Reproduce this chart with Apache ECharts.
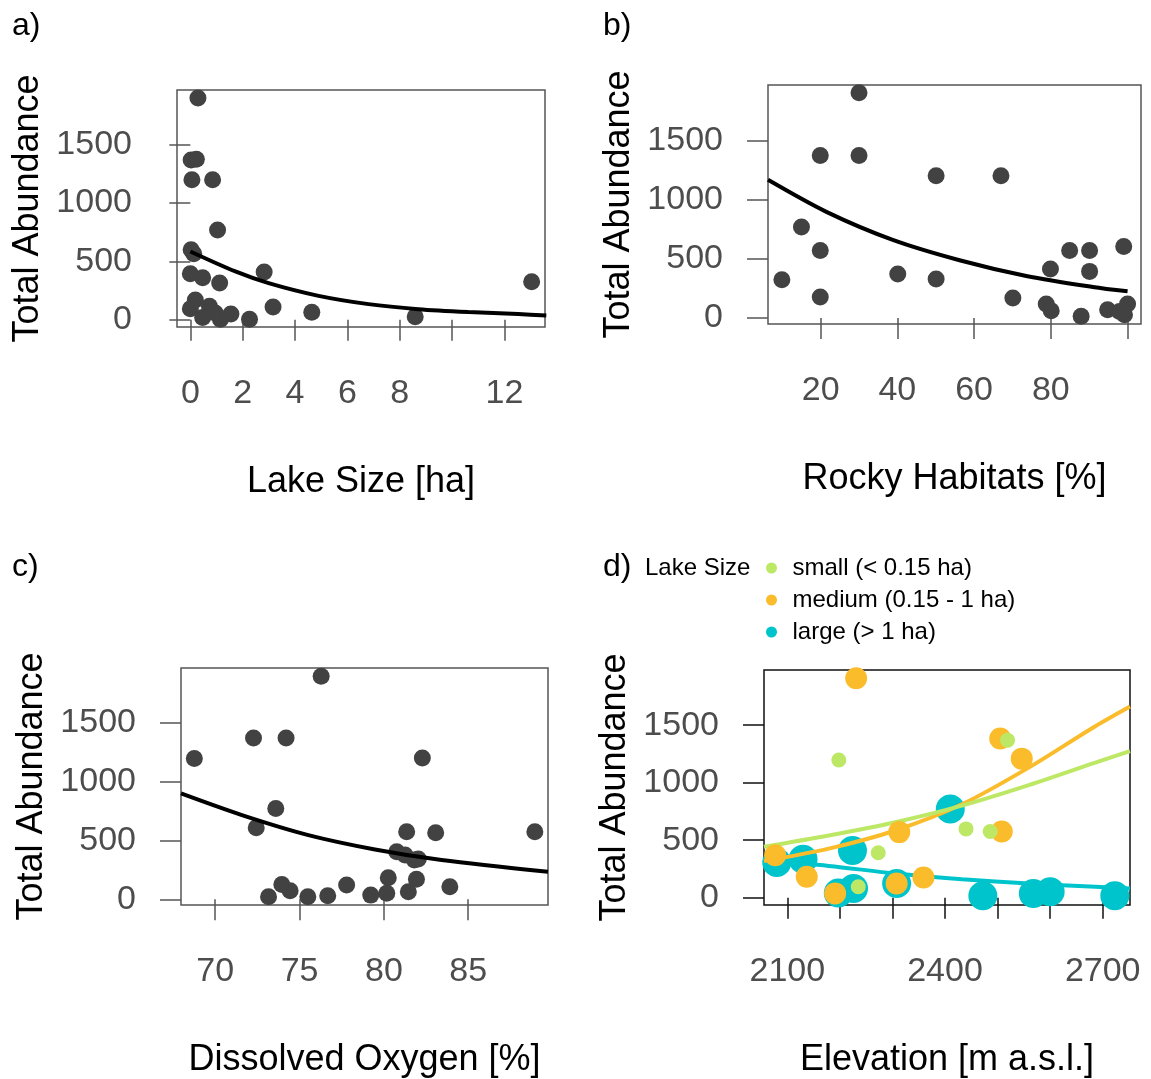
<!DOCTYPE html>
<html>
<head>
<meta charset="utf-8">
<script src="https://cdn.jsdelivr.net/npm/echarts@6/dist/echarts.min.js"></script>
<style>
html,body{margin:0;padding:0;background:#fff;}
#chart{width:1151px;height:1079px;}
</style>
</head>
<body>
<div id="chart"></div>
<script>
// ---------- data ----------
// a) Lake size [ha] vs total abundance
const aX = [0.29, 0.03, 0.23, 0.06, 0.85, 1.04, 0.03, 0.13, 0.0, 0.47, 1.12, 2.82, 0.19, 0.0, 0.73, 0.47, 1.15, 1.55, 0.95, 2.26, 3.16, 4.64, 8.59, 13.04];
const aY = [1900, 1370, 1375, 1200, 1200, 770, 600, 565, 395, 360, 315, 410, 170, 95, 115, 20, 5, 50, 57, 5, 110, 65, 25, 325];
const aFitX = [0, 1.72, 2.99, 4.90, 6.81, 8.71, 10.62, 12.53, 13.6];
const aFitY = [585, 414, 314, 205, 134, 91, 66, 49, 37];

// b) Rocky habitats [%]
const bX = [30.0, 19.9, 30.0, 50.1, 67.0, 15.0, 19.9, 9.9, 19.9, 40.1, 50.1, 70.1, 79.9, 84.9, 90.1, 99.0, 90.1, 78.8, 80.1, 87.9, 94.8, 100, 99.2, 97.9];
const bY = [1905, 1373, 1373, 1202, 1202, 769, 571, 323, 177, 371, 329, 169, 414, 571, 571, 605, 394, 118, 62, 14, 70, 118, 28, 55];
const bFitX = [6.28, 21.5, 38.8, 56.2, 73.6, 90.9, 100];
const bFitY = [1168, 897, 660, 488, 355, 262, 225];

// c) Dissolved oxygen [%]
const cX = [76.28, 72.27, 74.2, 68.76, 82.28, 73.59, 72.43, 81.35, 83.07, 88.95, 80.76, 81.25, 81.8, 82.04, 80.26, 81.93, 73.95, 74.44, 73.16, 75.49, 76.67, 77.79, 79.22, 80.17, 81.45, 83.91];
const cY = [1896, 1372, 1372, 1197, 1202, 772, 608, 574, 565, 574, 404, 376, 334, 342, 184, 170, 127, 73, 22, 22, 31, 121, 36, 51, 65, 107];
const cFitX = [67.97, 71.58, 75.52, 79.47, 83.42, 89.73];
const cFitY = [900, 716, 546, 424, 334, 234];

// d) Elevation [m a.s.l.] by lake size class
const dSmallX = [2198, 2519, 2440, 2486, 2273, 2235];
const dSmallY = [1197, 1370, 598, 575, 391, 95];
const dMedX = [2231, 2505, 2546, 2508, 2313, 2359, 2308, 2137, 2191, 2077];
const dMedY = [1908, 1384, 1209, 575, 570, 175, 123, 181, 37, 368];
const dLargeX = [2410, 2224, 2130, 2080, 2308, 2226, 2197, 2472, 2568, 2600, 2723];
const dLargeY = [771, 411, 333, 305, 123, 80, 40, 17, 37, 52, 17];
const dFitX = [2055.7, 2178.8, 2305.4, 2432.3, 2559.2, 2685.9, 2751.9];
const dFitSmallY = [443, 541, 656, 800, 978, 1174, 1275];
const dFitMedY = [318, 426, 584, 812, 1131, 1491, 1663];
const dFitLargeY = [325, 276, 210, 161, 123, 95, 80];

// tick values and labels
const yTicks = [0, 500, 1000, 1500];
const aTicks = [0, 2, 4, 6, 8, 10, 12];
const aLabels = [0, 2, 4, 6, 8, 12];
const bTicks = [20, 40, 60, 80, 100];
const bLabels = [20, 40, 60, 80];
const cTicks = [70, 75, 80, 85];
const dTicks = [2100, 2200, 2300, 2400, 2500, 2600, 2700];
const dLabels = [2100, 2400, 2700];

const panelLabels = ['a)', 'b)', 'c)', 'd)'];
const xNames = ['Lake Size [ha]', 'Rocky Habitats [%]', 'Dissolved Oxygen [%]', 'Elevation [m a.s.l.]'];
const yName = 'Total Abundance';
const groupNames = ['small (< 0.15 ha)', 'medium (0.15 - 1 ha)', 'large (> 1 ha)'];
const legendTitle = 'Lake Size';

// ---------- layout / style ----------
const FONT = '"Liberation Sans", Arial, Helvetica, sans-serif';
const PT = '#424242';
const C_SMALL = '#bde866', C_MED = '#fbbc2c', C_LARGE = '#00c4cb';
const zip = (xs, ys) => xs.map((x, i) => [x, ys[i]]);

const boxes = [
  {left: 177, top: 90, width: 368, height: 237, xr: [-0.51, 13.55], yr: [-62, 1969], border: '#555'},
  {left: 768, top: 85, width: 373, height: 239, xr: [6.28, 103.5], yr: [-51, 1970], border: '#555'},
  {left: 181, top: 668, width: 367, height: 237, xr: [67.97, 89.73], yr: [-48, 1966], border: '#555'},
  {left: 764, top: 670, width: 366, height: 237, xr: [2055.7, 2751.9], yr: [-64, 1980], border: '#111'}
];
const xTickSets = [aTicks, bTicks, cTicks, dTicks];
const xLabelSets = [aLabels, bLabels, cTicks, dLabels];
const plain = v => String(v);

const grid = boxes.map(b => ({left: b.left, top: b.top, width: b.width, height: b.height,
  show: true, borderColor: b.border, borderWidth: 1.5, backgroundColor: 'transparent', containLabel: false}));

const xAxis = boxes.map((b, i) => ({
  type: 'value', gridIndex: i, min: b.xr[0], max: b.xr[1],
  name: xNames[i], nameLocation: 'middle', nameGap: 137,
  nameTextStyle: {fontSize: 36, color: '#000', fontFamily: FONT},
  axisLine: {show: false},
  splitLine: {show: false},
  axisTick: {show: true, length: 21, customValues: xTickSets[i], lineStyle: {color: b.border, width: 1.5}},
  axisLabel: {show: true, customValues: xLabelSets[i], formatter: plain, margin: 50, fontSize: 34, color: '#4d4d4d', fontFamily: FONT}
}));
const yAxis = boxes.map((b, i) => ({
  type: 'value', gridIndex: i, min: b.yr[0], max: b.yr[1],
  name: yName, nameLocation: 'middle', nameGap: 131, nameRotate: 90,
  nameTextStyle: {fontSize: 36, color: '#000', fontFamily: FONT},
  axisLine: {show: false},
  splitLine: {show: false},
  axisTick: {show: true, length: 21, customValues: yTicks, lineStyle: {color: b.border, width: 1.5}},
  axisLabel: {show: true, customValues: yTicks, formatter: plain, margin: 45, fontSize: 34, color: '#4d4d4d', fontFamily: FONT}
}));

const title = panelLabels.map((t, i) => ({
  text: t, left: i % 2 === 0 ? 12 : 603, top: i < 2 ? 10 : 551, padding: 0,
  textStyle: {fontSize: 32, fontWeight: 'normal', color: '#000', fontFamily: FONT}
}));
title.push({text: legendTitle, left: 645, top: 556, padding: 0,
  textStyle: {fontSize: 24, fontWeight: 'normal', color: '#000', fontFamily: FONT}});

const blackPts = (xs, ys, i) => ({type: 'scatter', xAxisIndex: i, yAxisIndex: i, data: zip(xs, ys),
  symbol: 'circle', symbolSize: 17, itemStyle: {color: PT, opacity: 1}, silent: true, z: 3});
const fitLine = (xs, ys, i, color, name) => ({type: 'line', name: name, xAxisIndex: i, yAxisIndex: i, data: zip(xs, ys),
  showSymbol: false, smooth: 0.3, lineStyle: {color: color, width: 4}, silent: true, z: 4});
const groupPts = (name, xs, ys, color, size, z) => ({type: 'scatter', name: name, xAxisIndex: 3, yAxisIndex: 3,
  data: zip(xs, ys), symbol: 'circle', symbolSize: size, itemStyle: {color: color, opacity: 1}, silent: true, z: z});

const series = [
  blackPts(aX, aY, 0), fitLine(aFitX, aFitY, 0, '#000', 'fitA'),
  blackPts(bX, bY, 1), fitLine(bFitX, bFitY, 1, '#000', 'fitB'),
  blackPts(cX, cY, 2), fitLine(cFitX, cFitY, 2, '#000', 'fitC'),
  groupPts(groupNames[2], dLargeX, dLargeY, C_LARGE, 29, 3),
  groupPts(groupNames[1], dMedX, dMedY, C_MED, 22, 4),
  groupPts(groupNames[0], dSmallX, dSmallY, C_SMALL, 15, 5),
  fitLine(dFitX, dFitLargeY, 3, C_LARGE, 'fitLarge'),
  fitLine(dFitX, dFitMedY, 3, C_MED, 'fitMed'),
  fitLine(dFitX, dFitSmallY, 3, C_SMALL, 'fitSmall')
];

const option = {
  animation: false,
  backgroundColor: '#fff',
  textStyle: {fontFamily: FONT},
  title: title,
  legend: {
    orient: 'vertical', left: 766, top: 556, padding: 0,
    itemWidth: 32, itemHeight: 11, itemGap: 8, selectedMode: false,
    data: groupNames.map(n => ({name: n, icon: 'circle'})),
    textStyle: {fontSize: 24, lineHeight: 24, color: '#000', fontFamily: FONT, padding: 0}
  },
  grid: grid,
  xAxis: xAxis,
  yAxis: yAxis,
  series: series
};

const chart = echarts.init(document.getElementById('chart'), null, {renderer: 'canvas'});
chart.setOption(option);
</script>
</body>
</html>
